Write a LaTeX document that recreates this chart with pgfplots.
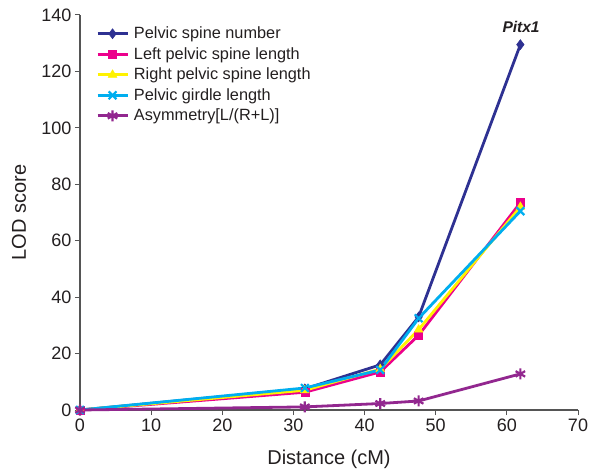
\documentclass[border=0pt]{standalone}
\usepackage{fontspec}
\setmainfont{Liberation Sans}
\usepackage{pgfplots}
\pgfplotsset{compat=1.18}

\definecolor{cnavy}{HTML}{2E3192}
\definecolor{cmag}{HTML}{EC008C}
\definecolor{cyel}{HTML}{FFF200}
\definecolor{ccyan}{HTML}{00AEEF}
\definecolor{cpurp}{HTML}{92278F}
\definecolor{axgray}{HTML}{555555}
\definecolor{txt}{HTML}{231F20}

\begin{document}
\begin{tikzpicture}
\useasboundingbox (-80pt,-62pt) rectangle (521pt,410pt);
\begin{axis}[
    scale only axis,
    width=498pt, height=395pt,
    xmin=0, xmax=70, ymin=0, ymax=140,
    axis x line*=bottom, axis y line*=left,
    axis line style={axgray, line width=1.2pt},
    tick style={axgray, line width=1pt},
    tick align=outside,
    major tick length=5pt,
    xtick={0,10,...,70}, ytick={0,20,...,140},
    /pgf/number format/assume math mode=true,
    tick label style={font=\fontsize{18}{18}\selectfont, text=txt},
    label style={font=\fontsize{20}{20}\selectfont, text=txt},
    xlabel={Distance (cM)},
    ylabel={LOD score},
    xlabel style={at={(axis description cs:0.5,-0.124)}, anchor=center},
    ylabel style={at={(axis description cs:-0.1225,0.5)}, anchor=center},
    legend cell align=left,
    legend style={at={(0.026,0.98)}, anchor=north west, draw=none, fill=none,
        font=\fontsize{16.3}{16}\selectfont, text=txt, row sep=3.2pt,
        /tikz/every even column/.append style={column sep=0pt},
        nodes={inner xsep=5pt}},
    legend image code/.code={
        \draw[mark repeat=2, mark phase=2, #1]
            plot coordinates {(0pt,0pt) (15pt,0pt) (30pt,0pt)};
    },
    every axis plot/.append style={line width=2.8pt},
    clip=false,
]
\addplot[cnavy, mark=diamond*, mark size=5pt, mark options={line width=0.5pt}]
    coordinates {(0,0) (31.6,7.5) (42.2,16) (47.6,33) (61.9,129.5)};
\addplot[cmag, mark=square*, mark size=4pt, mark options={line width=0.5pt}]
    coordinates {(0,0) (31.6,6.3) (42.2,13.5) (47.6,26.5) (61.9,73.5)};
\addplot[cyel, mark=triangle*, mark size=5pt, mark options={line width=0.5pt}]
    coordinates {(0,0) (31.6,7) (42.2,14.5) (47.6,28.5) (61.9,72)};
\addplot[ccyan, mark=x, mark size=5.5pt, mark options={line width=2.2pt}]
    coordinates {(0,0) (31.6,7.8) (42.2,14.2) (47.6,32.5) (61.9,70.5)};
\addplot[cpurp, mark=asterisk, mark size=5.5pt, mark options={line width=2.2pt}]
    coordinates {(0,0) (31.6,1.1) (42.2,2.3) (47.6,3.2) (61.9,12.8)};
\legend{Pelvic spine number, Left pelvic spine length, Right pelvic spine length,
        Pelvic girdle length, Asymmetry[L/(R+L)]}
\node[font=\bfseries\itshape\fontsize{15.5}{16}\selectfont, text=txt]
    at (axis cs:62,135.7) {Pitx1};
\end{axis}
\end{tikzpicture}
\end{document}
